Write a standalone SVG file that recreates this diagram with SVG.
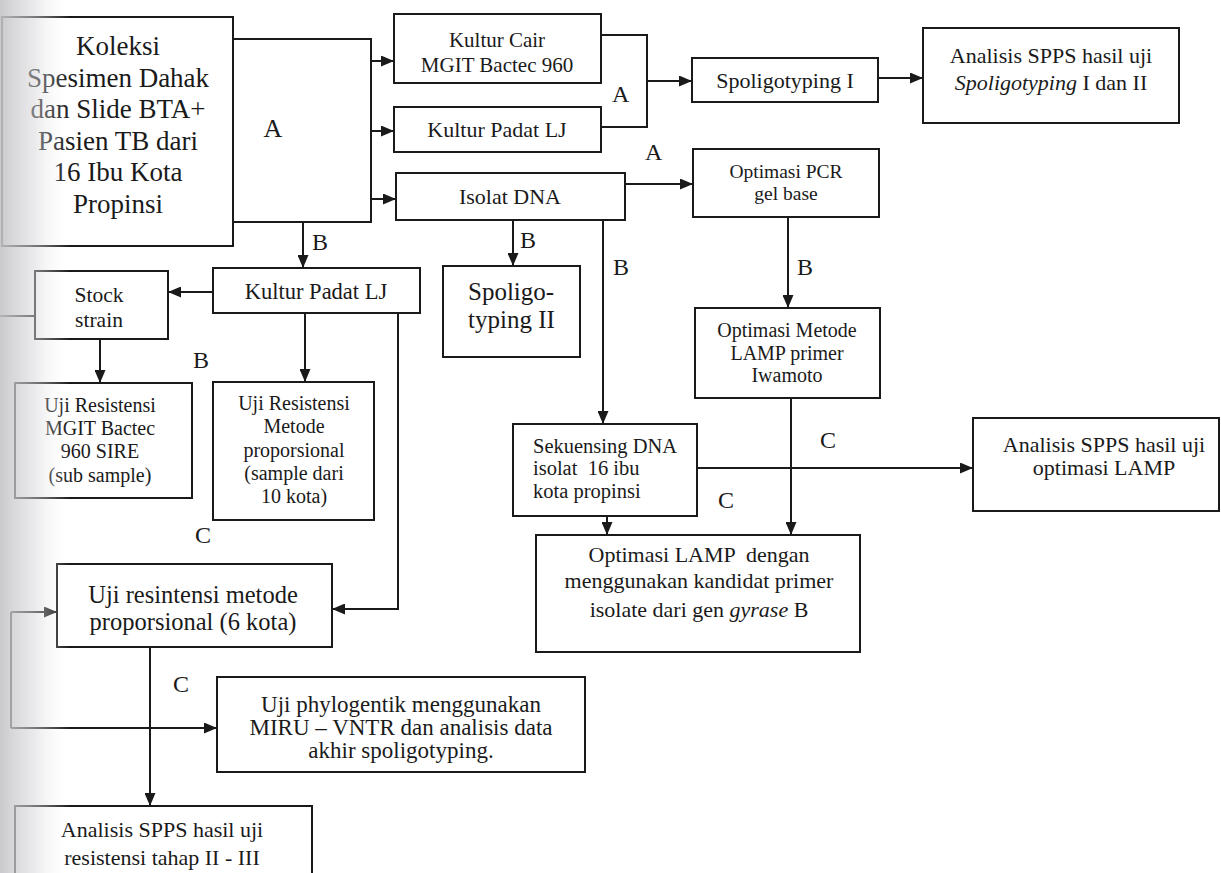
<svg xmlns="http://www.w3.org/2000/svg" width="1221" height="873" viewBox="0 0 1221 873" font-family="'Liberation Serif', 'DejaVu Serif', serif">
<defs>
<marker id="arr" markerUnits="userSpaceOnUse" markerWidth="13" markerHeight="11" refX="13" refY="5.5" orient="auto">
<path d="M0,0 L13,5.5 L0,11 z" fill="#1a1a1a"/>
</marker>
<linearGradient id="shade" x1="0" y1="0" x2="1" y2="0">
<stop offset="0" stop-color="#c4c4c8" stop-opacity="0.9"/>
<stop offset="0.5" stop-color="#d6d6da" stop-opacity="0.5"/>
<stop offset="1" stop-color="#ffffff" stop-opacity="0"/>
</linearGradient>
</defs>
<style>
.box{fill:#ffffff;stroke:#1a1a1a;stroke-width:2}
.ln{fill:none;stroke:#1a1a1a;stroke-width:2}
.ar{fill:none;stroke:#1a1a1a;stroke-width:2;marker-end:url(#arr)}
.t{font-family:'Liberation Serif','DejaVu Serif',serif;fill:#1a1a1a}
.c{text-anchor:middle}
.lbl{font-size:24px}
</style>
<rect x="0" y="0" width="1221" height="873" fill="#ffffff"/>

<g id="connectors">
<polyline class="ln" points="233,39 371,39 371,222 233,222"/>
<line class="ar" x1="371" y1="61" x2="394" y2="61"/>
<line class="ar" x1="371" y1="131" x2="394" y2="131"/>
<line class="ar" x1="371" y1="199" x2="396" y2="199"/>
<line class="ar" x1="303" y1="222" x2="303" y2="268"/>
<polyline class="ln" points="601,35 647,35 647,127 601,127"/>
<line class="ar" x1="647" y1="81" x2="692" y2="81"/>
<line class="ar" x1="878" y1="78" x2="923" y2="78"/>
<line class="ar" x1="625" y1="184" x2="693" y2="184"/>
<line class="ar" x1="788" y1="217" x2="788" y2="308"/>
<line class="ar" x1="513" y1="220" x2="513" y2="266"/>
<line class="ar" x1="603" y1="220" x2="603" y2="424"/>
<line class="ar" x1="697" y1="468" x2="973" y2="468"/>
<line class="ar" x1="791" y1="398" x2="791" y2="535"/>
<line class="ar" x1="607" y1="516" x2="607" y2="535"/>
<line class="ar" x1="213" y1="292" x2="168" y2="292"/>
<line class="ln" x1="0" y1="316" x2="35" y2="316"/>
<line class="ar" x1="100" y1="339" x2="100" y2="383"/>
<line class="ar" x1="305" y1="313" x2="305" y2="382"/>
<polyline class="ar" points="398,313 398,609 332,609"/>
<line class="ar" x1="11" y1="612" x2="57" y2="612"/>
<line class="ln" x1="11" y1="612" x2="11" y2="728"/>
<line class="ar" x1="11" y1="728" x2="217" y2="728"/>
<line class="ar" x1="150" y1="647" x2="150" y2="806"/>
</g>

<g id="labels" class="t">
<text class="t c" x="273" y="137" font-size="26">A</text>
<text class="t lbl" x="312" y="250">B</text>
<text class="t lbl" x="612" y="102">A</text>
<text class="t lbl" x="645" y="160">A</text>
<text class="t lbl" x="520" y="248">B</text>
<text class="t lbl" x="613" y="275">B</text>
<text class="t lbl" x="797" y="275">B</text>
<text class="t lbl" x="820" y="448">C</text>
<text class="t lbl" x="718" y="508">C</text>
<text class="t lbl" x="193" y="368">B</text>
<text class="t lbl" x="195" y="543">C</text>
<text class="t lbl" x="173" y="692">C</text>
</g>

<g id="koleksi">
<rect class="box" x="2" y="17" width="231" height="229"/>
<text class="t c" x="118" font-size="27"><tspan x="118" y="55">Koleksi</tspan><tspan x="118" y="87">Spesimen Dahak</tspan><tspan x="118" y="118">dan Slide BTA+</tspan><tspan x="118" y="150">Pasien TB dari</tspan><tspan x="118" y="181">16 Ibu Kota</tspan><tspan x="118" y="213">Propinsi</tspan></text>
</g>
<g id="kultur-cair">
<rect class="box" x="394" y="14" width="207" height="69"/>
<text class="t c" font-size="21"><tspan x="497" y="47">Kultur Cair</tspan><tspan x="497" y="72">MGIT Bactec 960</tspan></text>
</g>
<g id="kultur-padat-1">
<rect class="box" x="394" y="107" width="207" height="45"/>
<text class="t c" x="497" y="137" font-size="22">Kultur Padat LJ</text>
</g>
<g id="isolat-dna">
<rect class="box" x="396" y="173" width="229" height="47"/>
<text class="t c" x="510" y="204" font-size="22">Isolat DNA</text>
</g>
<g id="spoligotyping-1">
<rect class="box" x="692" y="58" width="186" height="44"/>
<text class="t c" x="785" y="88" font-size="22">Spoligotyping I</text>
</g>
<g id="analisis-spoligo">
<rect class="box" x="923" y="28" width="256" height="95"/>
<text class="t c" font-size="22"><tspan x="1051" y="63">Analisis SPPS hasil uji</tspan><tspan x="1051" y="90"><tspan font-style="italic">Spoligotyping</tspan> I dan II</tspan></text>
</g>
<g id="optimasi-pcr">
<rect class="box" x="693" y="149" width="186" height="68"/>
<text class="t c" font-size="19.5"><tspan x="786" y="178">Optimasi PCR</tspan><tspan x="786" y="200">gel base</tspan></text>
</g>
<g id="optimasi-lamp-iwamoto">
<rect class="box" x="695" y="308" width="185" height="90"/>
<text class="t c" font-size="20"><tspan x="787" y="337">Optimasi Metode</tspan><tspan x="787" y="360">LAMP primer</tspan><tspan x="787" y="382">Iwamoto</tspan></text>
</g>
<g id="spoligotyping-2">
<rect class="box" x="443" y="266" width="137" height="91"/>
<text class="t" font-size="25"><tspan x="468" y="300">Spoligo-</tspan><tspan x="468" y="328">typing II</tspan></text>
</g>
<g id="sekuensing">
<rect class="box" x="513" y="424" width="184" height="92"/>
<text class="t" font-size="20.5" xml:space="preserve"><tspan x="533" y="453">Sekuensing DNA</tspan><tspan x="533" y="475">isolat  16 ibu</tspan><tspan x="533" y="498">kota propinsi</tspan></text>
</g>
<g id="analisis-lamp">
<rect class="box" x="973" y="418" width="246" height="93"/>
<text class="t c" font-size="22"><tspan x="1104" y="452">Analisis SPPS hasil uji</tspan><tspan x="1104" y="475">optimasi LAMP</tspan></text>
</g>
<g id="optimasi-lamp-gyrase">
<rect class="box" x="536" y="535" width="324" height="117"/>
<text class="t c" font-size="22" xml:space="preserve"><tspan x="699" y="562">Optimasi LAMP  dengan</tspan><tspan x="699" y="588">menggunakan kandidat primer</tspan><tspan x="699" y="617">isolate dari gen <tspan font-style="italic">gyrase</tspan> B</tspan></text>
</g>
<g id="kultur-padat-2">
<rect class="box" x="213" y="268" width="207" height="45"/>
<text class="t c" x="316" y="299" font-size="22.5">Kultur Padat LJ</text>
</g>
<g id="stock-strain">
<rect class="box" x="35" y="271" width="133" height="68"/>
<text class="t c" font-size="21.5"><tspan x="99" y="302">Stock</tspan><tspan x="99" y="327">strain</tspan></text>
</g>
<g id="uji-mgit">
<rect class="box" x="15" y="383" width="177" height="115"/>
<text class="t c" font-size="20"><tspan x="100" y="412">Uji Resistensi</tspan><tspan x="100" y="435">MGIT Bactec</tspan><tspan x="100" y="458">960 SIRE</tspan><tspan x="100" y="482">(sub sample)</tspan></text>
</g>
<g id="uji-proporsional-10">
<rect class="box" x="213" y="382" width="161" height="138"/>
<text class="t c" font-size="20"><tspan x="294" y="410">Uji Resistensi</tspan><tspan x="294" y="433">Metode</tspan><tspan x="294" y="457">proporsional</tspan><tspan x="294" y="480">(sample dari</tspan><tspan x="294" y="503">10 kota)</tspan></text>
</g>
<g id="uji-proporsional-6">
<rect class="box" x="57" y="564" width="275" height="83"/>
<text class="t c" font-size="24.5"><tspan x="193" y="603">Uji resintensi metode</tspan><tspan x="193" y="630">proporsional (6 kota)</tspan></text>
</g>
<g id="uji-phylogentik">
<rect class="box" x="217" y="677" width="368" height="95"/>
<text class="t c" font-size="23"><tspan x="401" y="712">Uji phylogentik menggunakan</tspan><tspan x="401" y="735">MIRU – VNTR dan analisis data</tspan><tspan x="401" y="758">akhir spoligotyping.</tspan></text>
</g>
<g id="analisis-resistensi">
<rect class="box" x="15" y="806" width="297" height="80"/>
<text class="t c" font-size="22"><tspan x="162" y="837">Analisis SPPS hasil uji</tspan><tspan x="162" y="865">resistensi tahap II - III</tspan></text>
</g>

<rect id="page-shading" x="0" y="0" width="70" height="873" fill="url(#shade)"/>
</svg>
